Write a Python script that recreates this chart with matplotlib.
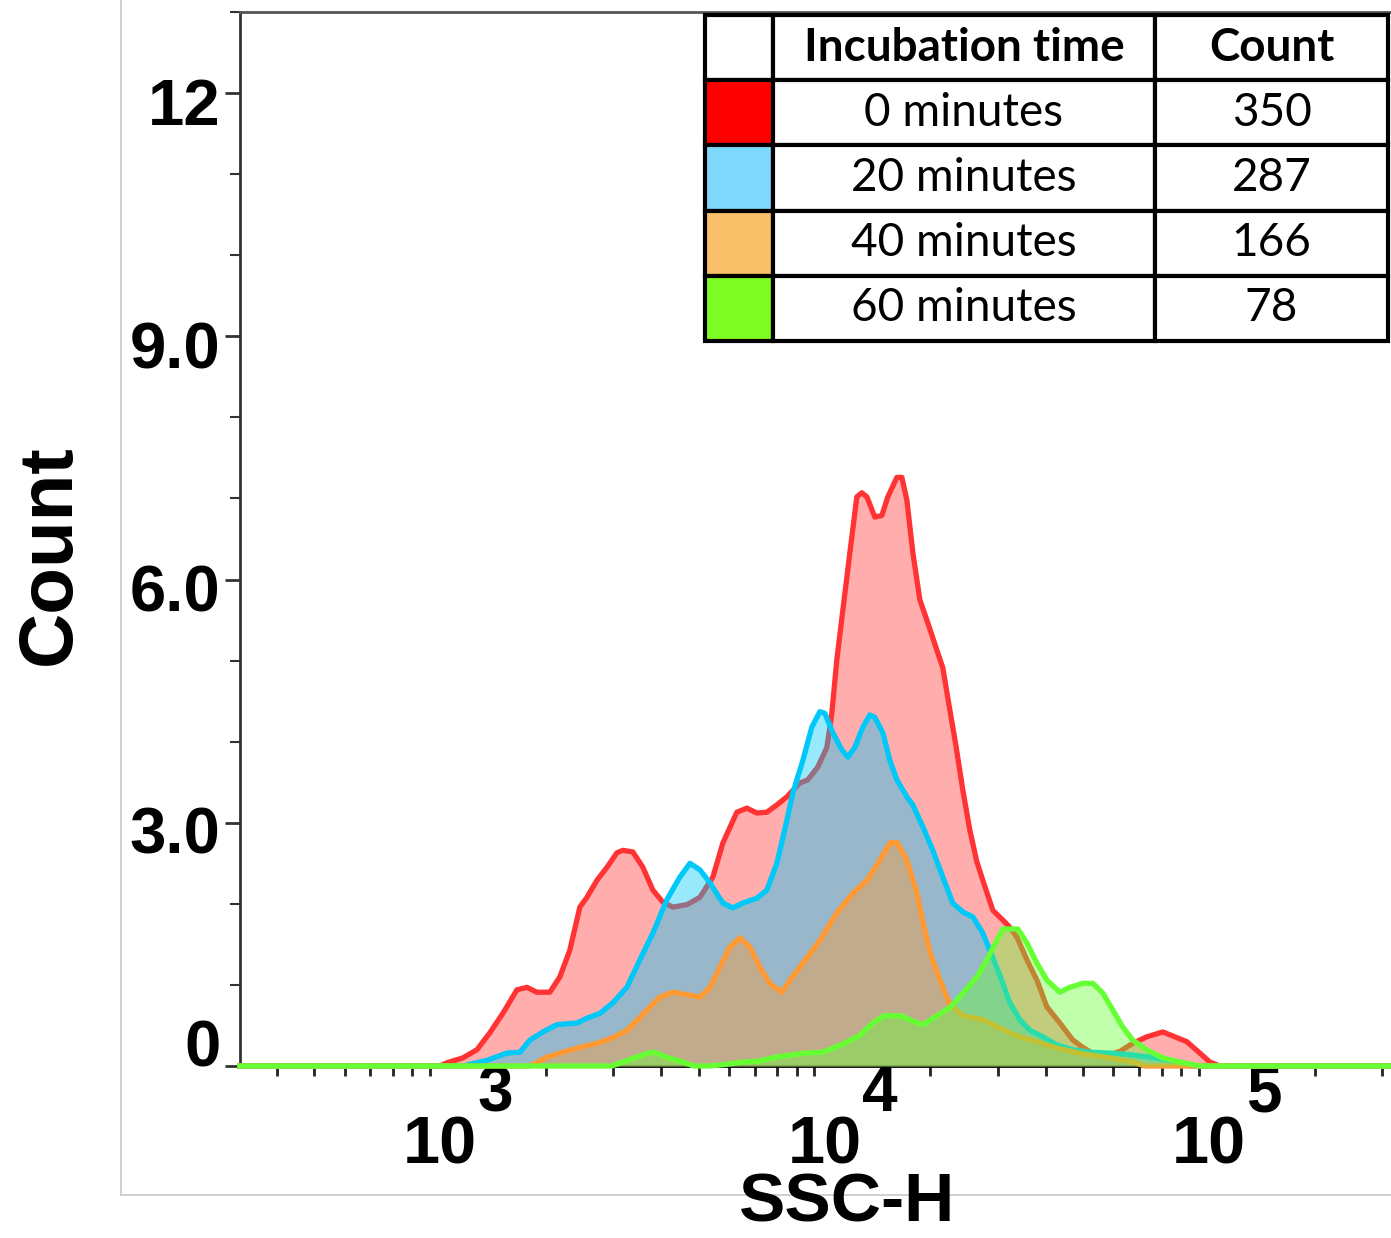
import numpy as np
import matplotlib
matplotlib.use('Agg')
import matplotlib.pyplot as plt
import matplotlib.transforms as mtransforms
from matplotlib import font_manager
from matplotlib.lines import Line2D
from matplotlib.ticker import LogLocator, MultipleLocator, NullFormatter

# ---- data (SSC-H vs count) ----
red_x = [1062, 1107, 1218, 1325, 1432, 1548, 1684, 1788, 1898, 2051, 2178, 2312, 2455, 2561,
         2719, 2887, 3065, 3177, 3373, 3581, 3802, 4036, 4285, 4661, 5038, 5445, 5781, 6286,
         6675, 7088, 7525, 7989, 8482, 9169, 9618, 10212, 10778, 11104, 11442, 11860, 12370,
         12898, 13290, 13697, 14366, 14982, 15533, 16393, 16891, 17403, 18041, 18812, 19618,
         20828, 21590, 22514, 23336, 24338, 25376, 26462, 27430, 29126, 30927, 32251, 33632,
         35710, 37914, 40255, 43512, 47033, 49939, 53636, 58686, 62316, 67350, 73232, 80613,
         87670, 93077, 100600, 106800, 113400]
red_y = [0, 0.04, 0.10, 0.20, 0.41, 0.65, 0.94, 0.97, 0.91, 0.91, 1.10, 1.43, 1.96, 2.08,
         2.29, 2.45, 2.63, 2.66, 2.64, 2.45, 2.17, 2.02, 1.96, 1.99, 2.08, 2.33, 2.75, 3.13,
         3.18, 3.12, 3.13, 3.22, 3.32, 3.49, 3.53, 3.69, 3.93, 4.35, 5.01, 5.62, 6.33,
         7.02, 7.07, 7.02, 6.77, 6.79, 7.02, 7.26, 7.26, 6.98, 6.33, 5.75, 5.50,
         5.13, 4.91, 4.39, 3.96, 3.40, 2.91, 2.52, 2.29, 1.92, 1.80, 1.71, 1.59,
         1.31, 1.06, 0.73, 0.53, 0.32, 0.23, 0.14, 0.14, 0.18, 0.28, 0.36, 0.42,
         0.35, 0.30, 0.16, 0.05, 0]

blue_x = [1218, 1407, 1586, 1714, 1820, 1967, 2139, 2412, 2561, 2768, 2992, 3253, 3517, 3802,
          4133, 4469, 4747, 5038, 5349, 5781, 6138, 6516, 7088, 7525, 7989, 8482, 8794, 9335,
          9851, 10335, 10649, 11171, 11790, 12222, 12745, 13370, 13942, 14366, 15073, 15718,
          16393, 17403, 18041, 19154, 20334, 21590, 22920, 24338, 25837, 27430, 29126, 30927,
          32251, 34247, 36360, 39290, 42730, 47033, 52077, 58686, 66150, 74560, 84070, 90880,
          94760]
blue_y = [0, 0.07, 0.16, 0.17, 0.32, 0.42, 0.51, 0.53, 0.59, 0.65, 0.78, 0.97, 1.31, 1.64,
          2.05, 2.33, 2.50, 2.42, 2.26, 2.01, 1.95, 2.01, 2.07, 2.17, 2.50, 3.03, 3.37, 3.77,
          4.18, 4.37, 4.35, 4.11, 3.90, 3.81, 3.93, 4.18, 4.33, 4.30, 4.11, 3.77,
          3.53, 3.32, 3.22, 2.95, 2.66, 2.33, 2.01, 1.90, 1.84, 1.64, 1.34, 1.02,
          0.78, 0.57, 0.44, 0.36, 0.26, 0.20, 0.17, 0.16, 0.14, 0.11, 0.07, 0.04, 0]

orange_x = [1820, 2015, 2218, 2455, 2719, 2992, 3253, 3517, 3734, 3965, 4285, 4661, 5038, 5349,
            5678, 6029, 6400, 6795, 7216, 7662, 8232, 8638, 9335, 10335, 11442, 12593, 13697,
            14805, 15718, 16393, 17403, 18478, 19154, 19970, 21210, 22514, 24338, 27430, 30370,
            33632, 37914, 42730, 49939, 58686, 67350, 72380]
orange_y = [0, 0.11, 0.17, 0.23, 0.28, 0.35, 0.44, 0.60, 0.73, 0.85, 0.91, 0.88, 0.85, 0.97,
            1.22, 1.47, 1.58, 1.47, 1.22, 1.02, 0.91, 1.06, 1.27, 1.55, 1.89, 2.13, 2.29,
            2.54, 2.75, 2.76, 2.54, 2.14, 1.78, 1.41, 1.06, 0.76, 0.62, 0.57, 0.47,
            0.37, 0.30, 0.22, 0.15, 0.10, 0.05, 0]

green_x = [2607, 2973, 3177, 3454, 3690, 3848, 4111, 4469, 4860, 5349, 5887, 6555, 7172, 7941,
           9448, 10523, 11720, 13051, 14195, 15162, 16788, 17930, 19154, 20828, 22646, 24774,
           26462, 28100, 29834, 30927, 33830, 35710, 37914, 40255, 43512, 46190, 49939, 53000,
           56260, 59750, 63430, 67350, 73232, 80613, 89260, 100600]
green_y = [0, 0, 0.05, 0.11, 0.16, 0.17, 0.11, 0.06, 0, 0, 0.02, 0.05, 0.06, 0.11,
           0.16, 0.17, 0.26, 0.37, 0.53, 0.62, 0.62, 0.56, 0.51, 0.62, 0.73, 0.94,
           1.10, 1.31, 1.55, 1.69, 1.69, 1.52, 1.27, 1.06, 0.91, 0.97, 1.02, 1.02,
           0.90, 0.69, 0.48, 0.32, 0.20, 0.10, 0.05, 0]

incubation_times = ['0 minutes', '20 minutes', '40 minutes', '60 minutes']
event_counts = [350, 287, 166, 78]
y_ticks = [0, 3, 6, 9, 12]
y_tick_labels = ['0', '3.0', '6.0', '9.0', '12']
x_decades = [1e3, 1e4, 1e5]
x_decade_exps = ['3', '4', '5']

# ---- style ----
line_colors = ['#FF3333', '#00C8F8', '#FF9933', '#66FF33']
swatch_colors = ['#FF0000', '#7FD9FC', '#FAC06A', '#7CFC22']
fill_alpha = 0.4

installed = {f.name for f in font_manager.fontManager.ttflist}
narrow = 'Liberation Sans Narrow' if 'Liberation Sans Narrow' in installed else 'Liberation Sans'
table_font = 'Lato' if 'Lato' in installed else 'DejaVu Sans'

W, H = 1391, 1238
fig = plt.figure(figsize=(W / 100, H / 100), dpi=100)
ax = fig.add_axes([240 / W, 1 - 1066 / H, 1 - 240 / W, (1066 - 12) / H])

xlim = (10 ** 2.506, 10 ** 5.5)
ax.set_xscale('log')
ax.set_xlim(*xlim)
ax.set_ylim(0, 13)

series = [(red_x, red_y), (blue_x, blue_y), (orange_x, orange_y), (green_x, green_y)]
for i, ((xs, ys), col) in enumerate(zip(series, line_colors)):
    # histograms sit on zero over the full axis range
    x = np.concatenate([[xlim[0]], xs, [xlim[1]]])
    y = np.concatenate([[0], ys, [0]])
    ax.fill_between(x, 0, y, color=col, alpha=fill_alpha, lw=0, zorder=3 + 2 * i)
    ax.plot(x, y, color=col, lw=3.8, solid_joinstyle='round', clip_on=False, zorder=4 + 2 * i)

# spines
ax.spines['right'].set_visible(False)
ax.spines['left'].set_color('#333333')
ax.spines['left'].set_linewidth(2)
ax.spines['top'].set_color('#555555')
ax.spines['top'].set_linewidth(2)
ax.spines['bottom'].set_color('black')
ax.spines['bottom'].set_linewidth(2)

# x ticks: log, labels drawn by hand below
ax.xaxis.set_major_locator(LogLocator(base=10, numticks=10))
ax.xaxis.set_minor_locator(LogLocator(base=10, subs=np.arange(2, 10), numticks=20))
ax.xaxis.set_major_formatter(NullFormatter())
ax.xaxis.set_minor_formatter(NullFormatter())
ax.tick_params(axis='x', which='both', direction='out', length=7, width=2, color='#222222')

# y ticks
ax.set_yticks(y_ticks)
ax.set_yticklabels(y_tick_labels)
ax.yaxis.set_minor_locator(MultipleLocator(1))
ax.tick_params(axis='y', which='major', direction='out', length=11, width=2, color='#333333', pad=3)
ax.tick_params(axis='y', which='minor', direction='out', length=7, width=1.5, color='#333333')
label_shift_px = [-23, 7, 8, 9, 8]
for lab, dy in zip(ax.get_yticklabels(), label_shift_px):
    lab.set_fontfamily(narrow)
    lab.set_fontweight('bold')
    lab.set_fontsize(47)
    lab.set_transform(lab.get_transform() +
                      mtransforms.ScaledTranslation(0, -dy / 100, fig.dpi_scale_trans))

# decade labels "10^n" (large exponent, shifted right of the tick)
base_tr = mtransforms.blended_transform_factory(ax.transData, ax.transAxes)
for xv, e in zip(x_decades, x_decade_exps):
    ax.text(xv, 0, '10', fontsize=48, fontweight='bold', family='Liberation Sans',
            ha='center', va='center', clip_on=False,
            transform=base_tr + mtransforms.ScaledTranslation(10 / 100, -80 / 100, fig.dpi_scale_trans))
    ax.text(xv, 0, e, fontsize=46, fontweight='bold', family='Liberation Sans',
            ha='center', va='center', clip_on=False,
            transform=base_tr + mtransforms.ScaledTranslation(65 / 100, -28 / 100, fig.dpi_scale_trans))

fig.text(50 / W, 1 - 555 / H, 'Count', rotation=90, ha='center', va='center',
         fontsize=55, fontweight='bold', family=narrow)
fig.text(847 / W, 1 - 1203 / H, 'SSC-H', ha='center', va='center',
         fontsize=50, fontweight='bold', family=narrow)

# light outer frame of the exported image
frame_col = '#C8C8C8'
fig.add_artist(Line2D([121 / W, 121 / W], [1, 1 - 1195 / H], color=frame_col, lw=1.2))
fig.add_artist(Line2D([121 / W, 1], [1 - 1195 / H, 1 - 1195 / H], color=frame_col, lw=1.2))

# legend table
tax = fig.add_axes([705 / W, 1 - 341 / H, (1388 - 705) / W, (341 - 15) / H])
tax.axis('off')
cell_text = [['', t, str(c)] for t, c in zip(incubation_times, event_counts)]
cell_cols = [[s, 'white', 'white'] for s in swatch_colors]
tbl = tax.table(cellText=cell_text, cellColours=cell_cols,
                colLabels=['', 'Incubation time', 'Count'],
                colWidths=[68 / 683, 382 / 683, 233 / 683],
                cellLoc='center', bbox=[0, 0, 1, 1])
tbl.auto_set_font_size(False)
for (r, c), cell in tbl.get_celld().items():
    cell.set_linewidth(3)
    cell.set_edgecolor('black')
    txt = cell.get_text()
    txt.set_fontsize(33)
    txt.set_family(table_font)
    if r == 0:
        txt.set_fontweight('bold')

fig.savefig('out.png', dpi=100)
